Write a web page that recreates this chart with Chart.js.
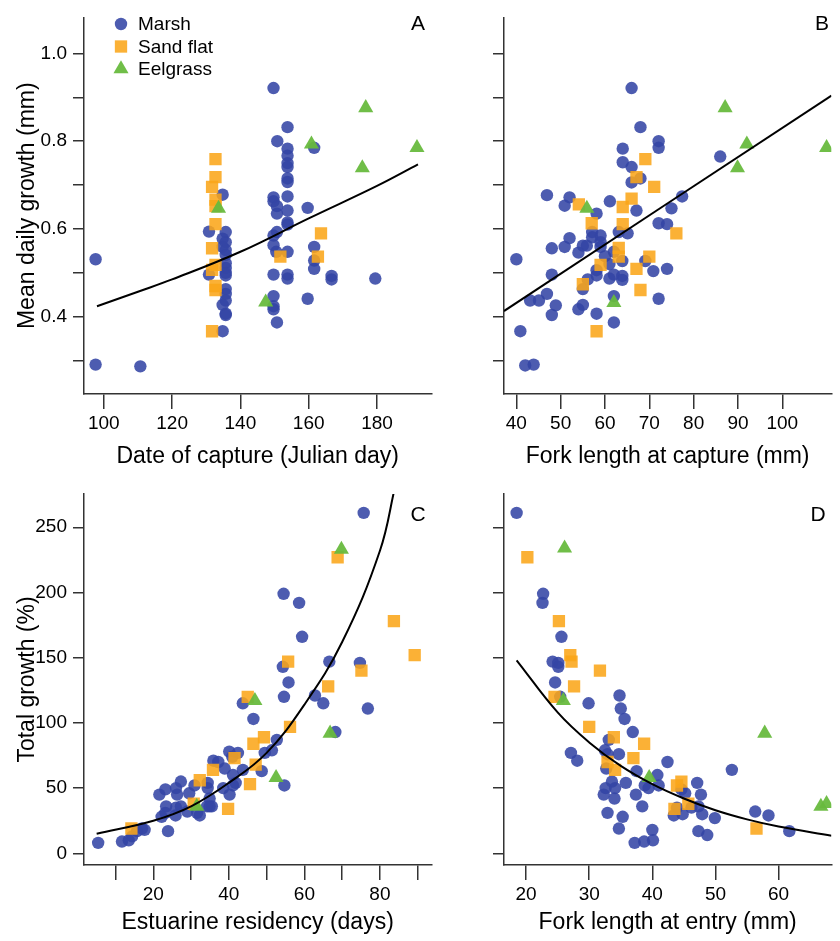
<!DOCTYPE html>
<html>
<head>
<meta charset="utf-8">
<script src="https://cdn.jsdelivr.net/npm/chart.js@4.4.1/dist/chart.umd.min.js"></script>
<style>
  html, body { margin: 0; padding: 0; background: #fff; overflow: hidden; }
  #wrap { position: relative; width: 840px; height: 941px; }
  canvas { position: absolute; }
</style>
</head>
<body>
<div id="wrap">
  <canvas id="chartA" width="440" height="470" style="left:0;top:0"></canvas>
  <canvas id="chartB" width="400" height="470" style="left:440px;top:0"></canvas>
  <canvas id="chartC" width="440" height="471" style="left:0;top:470px"></canvas>
  <canvas id="chartD" width="400" height="471" style="left:440px;top:470px"></canvas>
</div>
<script>
// habitats
const habitats = ["Marsh", "Sand flat", "Eelgrass"];

// A: date of capture (Julian day) vs mean daily growth (mm)
const marshA = [[97.6,0.531],[97.6,0.291],[110.7,0.287],[130.8,0.594],[130.8,0.496],
  [134.8,0.678],[135.7,0.593],[134.8,0.578],[135.7,0.570],[134.8,0.559],[135.7,0.552],[135.7,0.541],
  [135.7,0.522],[135.7,0.511],[135.7,0.500],[135.7,0.494],[135.7,0.463],[135.7,0.452],[135.7,0.437],
  [134.8,0.427],[135.7,0.407],[135.7,0.404],[134.8,0.367],
  [149.7,0.921],[150.8,0.800],[149.7,0.672],[149.7,0.663],[150.7,0.652],[150.7,0.635],[149.7,0.585],
  [150.7,0.593],[149.7,0.563],[150.5,0.548],[149.7,0.496],[149.7,0.447],[149.7,0.424],[149.7,0.417],[150.7,0.387],
  [153.8,0.832],[153.8,0.783],[153.8,0.767],[153.8,0.750],[153.8,0.741],[153.8,0.715],[153.8,0.707],
  [153.8,0.674],[153.8,0.642],[153.8,0.615],[153.8,0.610],[153.8,0.548],[153.8,0.496],[153.8,0.487],
  [159.7,0.648],[159.7,0.441],[161.6,0.785],[161.6,0.559],[161.6,0.528],[161.6,0.509],
  [166.7,0.493],[166.7,0.485],[179.5,0.487]];
const sandA = [[132.7,0.759],[132.7,0.718],[131.7,0.696],[132.7,0.667],[132.7,0.652],[132.7,0.611],
  [131.7,0.556],[132.7,0.518],[131.7,0.507],[132.7,0.470],[132.7,0.461],[131.7,0.367],
  [163.6,0.590],[162.7,0.537],[151.7,0.537]];
const eelA = [[176.7,0.876],[160.8,0.793],[175.7,0.739],[191.7,0.785],[133.6,0.647],[147.4,0.433]];
const fitA = [[98,0.424],[110,0.457],[120,0.485],[140,0.548],[160,0.624],[180,0.698],[192,0.747]];

// B: fork length at capture (mm) vs mean daily growth (mm)
const marshB = [[66.0,0.921],[68.0,0.832],[72.1,0.800],[72.1,0.785],[64.0,0.783],[64.0,0.752],[66.0,0.741],
  [68.0,0.715],[66.0,0.706],[86.0,0.765],[46.9,0.677],[52.0,0.672],[61.1,0.663],[77.4,0.674],[50.9,0.653],
  [58.1,0.635],[67.1,0.642],[75.0,0.647],[72.1,0.613],[74.0,0.611],[63.1,0.593],[65.1,0.590],[57.1,0.593],
  [59.0,0.585],[57.1,0.581],[59.0,0.570],[59.0,0.559],[52.0,0.579],[55.0,0.562],[55.9,0.562],[50.9,0.559],
  [48.0,0.556],[54.0,0.546],[40.0,0.531],[60.0,0.538],[62.0,0.548],[61.0,0.520],[63.9,0.527],[69.1,0.527],
  [58.1,0.506],[58.1,0.494],[56.1,0.485],[61.0,0.487],[62.0,0.496],[63.9,0.493],[63.9,0.484],[70.9,0.504],
  [74.0,0.509],[48.0,0.496],[55.0,0.463],[46.9,0.452],[43.1,0.437],[45.1,0.437],[48.9,0.426],[55.0,0.427],
  [54.0,0.417],[62.0,0.447],[72.1,0.441],[48.0,0.404],[58.1,0.407],[62.0,0.387],[40.9,0.367],[42.0,0.289],[43.9,0.291]];
const sandB = [[69.1,0.759],[67.1,0.718],[71.1,0.696],[66.0,0.669],[54.1,0.656],[64.0,0.650],[57.0,0.613],
  [64.0,0.611],[76.1,0.590],[63.1,0.557],[63.1,0.537],[70.0,0.537],[59.0,0.518],[67.1,0.509],[55.0,0.474],
  [68.0,0.461],[58.1,0.367]];
const eelB = [[87.1,0.876],[92.0,0.793],[89.9,0.739],[110.0,0.785],[55.9,0.647],[62.0,0.432]];
const fitB = [[37.2,0.413],[111.1,0.904]];

// C: estuarine residency (days) vs total growth (%)
const marshC = [[75.7,261],[54.5,199],[58.6,192],[59.4,166],[66.6,147],[74.7,146],[54.3,143],[55.8,131],
  [54.6,120],[62.8,121],[65.0,115],[76.8,111],[43.7,115],[46.5,103],[68.2,93],[52.7,87],[51.4,79],[49.5,77],
  [42.4,77],[40.1,78],[40.9,74],[35.9,71],[37.2,70],[38.9,65],[43.7,64],[48.7,63],[41.1,60],[41.8,54],
  [41.1,52],[38.5,50],[34.4,54],[34.4,50],[30.9,52],[29.5,46],[27.3,55],[26.0,50],[26.3,45],[23.2,49],
  [21.6,45],[40.2,45],[34.9,42],[34.9,36],[35.5,36],[34.2,36],[31.6,31],[32.3,29],[29.0,32],[27.3,36],
  [26.0,35],[23.4,36],[25.9,29],[23.2,31],[22.2,28],[54.7,52],[23.9,17],[17.0,19],[15.7,17],[14.4,13],
  [13.5,10],[11.7,9],[5.4,8],[17.7,18]];
const sandC = [[68.8,227],[83.7,178],[89.2,152],[55.7,147],[75.1,140],[66.3,128],[45.0,120],[56.2,97],
  [49.3,89],[46.5,84],[41.5,73],[47.1,68],[35.8,64],[32.3,56],[45.6,53],[30.7,38],[39.8,34],[14.2,19]];
const eelC = [[69.8,233],[46.9,117],[52.5,58],[66.8,92],[31.5,36]];
const fitC = [[5,15],[20,25],[30,36],[40,54],[50,77],[60,114],[70,162],[80,232],[84,281]];

// D: fork length at entry (mm) vs total growth (%)
const marshD = [[18.5,261],[22.7,199],[22.6,192],[25.6,166],[24.2,147],[25.1,146],[25.1,143],[24.6,131],
  [25.4,120],[29.9,115],[34.8,121],[35.0,111],[35.6,103],[36.9,93],[33.1,87],[32.5,79],[32.9,76],[34.7,76],
  [27.1,77],[28.1,71],[42.4,70],[52.6,64],[32.7,65],[37.5,63],[40.8,60],[33.6,55],[35.8,54],[38.8,52],
  [39.4,50],[41.0,52],[47.1,54],[32.6,50],[34.1,50],[32.3,45],[34.0,42],[37.4,45],[44.6,49],[45.2,46],
  [47.7,45],[38.4,36],[43.9,35],[46.2,35],[47.3,36],[43.4,29],[44.8,30],[47.9,30],[49.9,27],[32.9,31],
  [35.3,28],[34.7,19],[40.0,18],[40.1,10],[38.7,9],[37.2,8],[47.3,17],[48.7,14],[56.3,32],[58.4,29],[61.7,17]];
const sandD = [[20.2,227],[25.2,178],[27.0,152],[27.2,147],[31.7,140],[27.6,128],[24.5,120],[30.0,97],
  [33.9,89],[38.7,84],[37.0,73],[34.1,64],[32.9,70],[44.6,55],[43.9,52],[45.7,38],[43.5,34],[56.5,19]];
const eelD = [[26.1,234],[25.9,117],[39.5,58],[57.8,92],[66.7,36],[67.6,38]];
const fitD = [[18.5,148],[25,108],[30,85],[35,67],[40,53],[45,42],[50,33],[55,26],[60,20.5],[68.4,13.4]];

// ticks
const growthTicks = [0.3, 0.4, 0.5, 0.6, 0.7, 0.8, 0.9, 1.0];
const dayTicks = [100, 120, 140, 160, 180];
const forkTicks = [40, 50, 60, 70, 80, 90, 100];
const residencyTicks = [10, 20, 30, 40, 50, 60, 70, 80, 90];
const totalTicks = [0, 50, 100, 150, 200, 250];
const entryTicks = [20, 30, 40, 50, 60];

const FONT = '"Liberation Sans", Arial, Helvetica, sans-serif';
const AXIS = "#333";
const COLORS = ["rgba(52,70,165,0.88)", "rgba(250,166,26,0.88)", "rgba(104,186,62,0.95)"];
const STYLES = ["circle", "rect", "triangle"];
const RADII = [6.2, 8.7, 8.7];

Chart.defaults.color = "#000";
Chart.defaults.font.family = FONT;

function pts(list) {
  return list.map(([x, y]) => ({ x, y }));
}

function scatterSet(i, list) {
  return {
    type: "scatter",
    label: habitats[i],
    data: pts(list),
    pointStyle: STYLES[i],
    pointRadius: RADII[i],
    pointHoverRadius: RADII[i],
    backgroundColor: COLORS[i],
    borderWidth: 0,
    order: 3 - i,
  };
}

function fitSet(list) {
  return {
    type: "line",
    data: pts(list),
    borderColor: "#000",
    borderWidth: 2,
    pointRadius: 0,
    tension: 0.4,
    fill: false,
    order: 0,
  };
}

function tickFormat(labelled, digits) {
  return (v) => (labelled(v) ? v.toFixed(digits) : "");
}

const panelText = {
  id: "panelText",
  afterDraw(chart, args, opts) {
    const ctx = chart.ctx;
    ctx.save();
    ctx.fillStyle = "#000";
    ctx.textBaseline = "middle";
    ctx.textAlign = "center";
    ctx.font = `21px ${FONT}`;
    ctx.fillText(opts.letter, opts.lx, opts.ly);
    if (opts.legend) {
      ctx.textAlign = "left";
      ctx.font = `19px ${FONT}`;
      habitats.forEach((name, i) => {
        const y = 24 + i * 22.5;
        ctx.fillStyle = COLORS[i];
        ctx.beginPath();
        Chart.helpers.drawPoint(ctx, { pointStyle: STYLES[i], radius: RADII[i], rotation: 0, borderWidth: 0 }, 121, y);
        ctx.fillStyle = "#000";
        ctx.fillText(name, 138, y + 1);
      });
    }
    ctx.restore();
  },
};

function makePanel(id, o) {
  new Chart(document.getElementById(id), {
    type: "scatter",
    data: {
      datasets: [
        fitSet(o.fit),
        scatterSet(0, o.marsh),
        scatterSet(1, o.sand),
        scatterSet(2, o.eel),
      ],
    },
    plugins: [panelText],
    options: {
      responsive: false,
      animation: false,
      events: [],
      layout: { padding: { top: o.top, left: 0, right: 0, bottom: 0 } },
      plugins: {
        legend: { display: false },
        tooltip: { enabled: false },
        panelText: o.text,
      },
      scales: {
        x: {
          type: "linear",
          min: o.xMin,
          max: o.xMax,
          afterFit: (s) => { s.height = 76; },
          afterBuildTicks: (s) => { s.ticks = o.xTicks.map((v) => ({ value: v })); },
          ticks: { autoSkip: false, maxRotation: 0, padding: 3, font: { size: 19 }, callback: o.xFmt },
          grid: { drawOnChartArea: false, tickLength: 15, color: AXIS, lineWidth: 1.5 },
          border: { color: AXIS, width: 1.5 },
          title: { display: true, text: o.xTitle, font: { size: 23 }, padding: { top: 0, bottom: o.xTitlePad } },
        },
        y: {
          type: "linear",
          min: o.yMin,
          max: o.yMax,
          afterFit: (s) => { s.width = o.yWidth; },
          afterBuildTicks: (s) => { s.ticks = o.yTicks.map((v) => ({ value: v })); },
          ticks: { autoSkip: false, padding: 6, font: { size: 19 }, callback: o.yFmt },
          grid: { drawOnChartArea: false, tickLength: 11, color: AXIS, lineWidth: 1.5 },
          border: { color: AXIS, width: 1.5 },
          title: { display: !!o.yTitle, text: o.yTitle || "", font: { size: 23 }, padding: { top: 14, bottom: 0 } },
        },
      },
    },
  });
}

const growthFmt = tickFormat((v) => Math.round(v * 10) % 2 === 0, 1);
const blank = () => "";

makePanel("chartA", {
  marsh: marshA, sand: sandA, eel: eelA, fit: fitA,
  xMin: 94.2, xMax: 195.9, yMin: 0.224, yMax: 1.082, top: 8, yWidth: 84,
  xTicks: dayTicks, yTicks: growthTicks,
  xFmt: (v) => String(v), yFmt: growthFmt,
  xTitle: "Date of capture (Julian day)", xTitlePad: 0,
  yTitle: "Mean daily growth (mm)",
  text: { letter: "A", lx: 418, ly: 24, legend: true },
});

makePanel("chartB", {
  marsh: marshB, sand: sandB, eel: eelB, fit: fitB,
  xMin: 37.21, xMax: 111.06, yMin: 0.224, yMax: 1.082, top: 8, yWidth: 64,
  xTicks: forkTicks, yTicks: growthTicks,
  xFmt: (v) => String(v), yFmt: blank,
  xTitle: "Fork length at capture (mm)", xTitlePad: 0,
  text: { letter: "B", lx: 382, ly: 24 },
});

makePanel("chartC", {
  marsh: marshC, sand: sandC, eel: eelC, fit: fitC,
  xMin: 1.65, xMax: 93.6, yMin: -8.97, yMax: 275.5, top: 24, yWidth: 84,
  xTicks: residencyTicks, yTicks: totalTicks,
  xFmt: tickFormat((v) => v % 20 === 0, 0), yFmt: (v) => String(v),
  xTitle: "Estuarine residency (days)", xTitlePad: 5,
  yTitle: "Total growth (%)",
  text: { letter: "C", lx: 418, ly: 45 },
});

makePanel("chartD", {
  marsh: marshD, sand: sandD, eel: eelD, fit: fitD,
  xMin: 16.5, xMax: 68.35, yMin: -8.97, yMax: 275.5, top: 24, yWidth: 64,
  xTicks: entryTicks, yTicks: totalTicks,
  xFmt: (v) => String(v), yFmt: blank,
  xTitle: "Fork length at entry (mm)", xTitlePad: 5,
  text: { letter: "D", lx: 378, ly: 45 },
});
</script>
</body>
</html>
